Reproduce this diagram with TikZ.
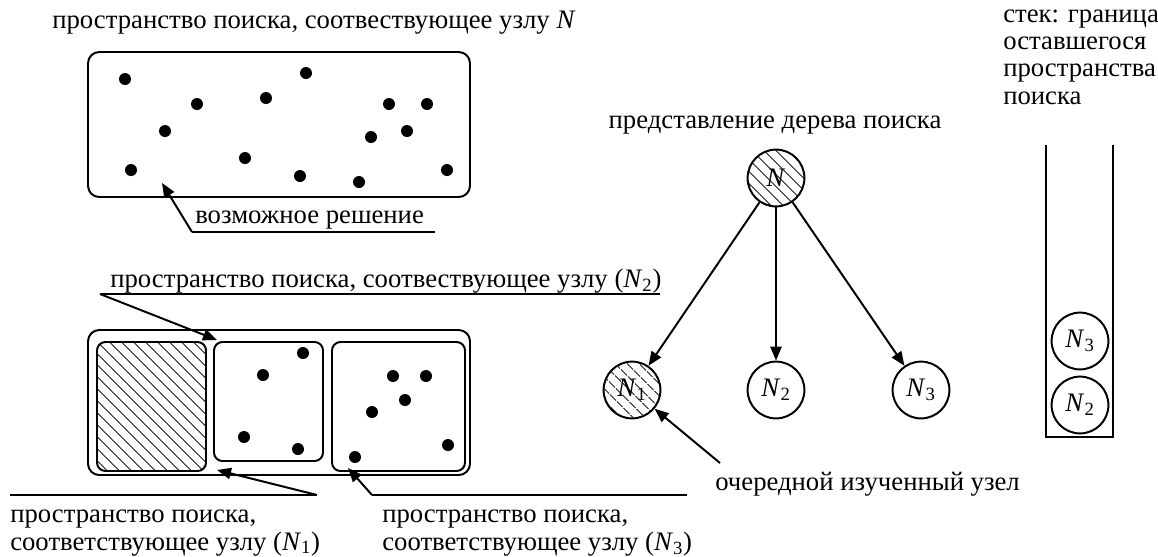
\documentclass[tikz,border=0pt]{standalone}
\usepackage{fontspec}
\setmainfont{Liberation Serif}
\usetikzlibrary{arrows.meta, positioning, patterns.meta}

\newcommand{\nsub}[1]{\textit{N}\textsubscript{#1}}

\begin{document}
\begin{tikzpicture}[
    txt/.style={inner sep=0pt, font=\fontsize{19}{19.3}\selectfont},
    space/.style={draw, line width=1.4pt, rounded corners=8pt,
                minimum width=9.55cm, minimum height=3.625cm},
    part/.style={draw, line width=1.4pt, rounded corners=6pt},
    hatch/.style={pattern={Lines[angle=-45, distance=6.5pt,
                line width=0.6pt]}, pattern color=black},
    dot/.style={circle, fill, inner sep=0pt, minimum size=0.3cm},
    tnode/.style={circle, draw, line width=1.4pt, minimum size=1.42cm,
                inner sep=0pt, font=\fontsize{19}{19.3}\selectfont},
    arr/.style={-{Triangle[length=10pt, width=8pt]}, line width=1.4pt},
    lead/.style={line width=1.4pt},
  ]
    \useasboundingbox (0,0) rectangle (28.95,-13.9);

    % Search space of node N
    \node[txt, anchor=base west] (ttop) at (1.3,-0.7)
      {пространство поиска, соотвествующее узлу \textit{N}};
    \node[space] (top) at (6.975,-3.1125) {};
    \node[dot] (a1) at (3.125,-1.975) {};
    \node[dot] (a2) at (4.925,-2.6) {};
    \node[dot] (a3) at (7.65,-1.825) {};
    \node[dot] (a4) at (6.65,-2.45) {};
    \node[dot] (a5) at (4.125,-3.275) {};
    \node[dot] (a6) at (3.275,-4.25) {};
    \node[dot] (a7) at (6.125,-3.95) {};
    \node[dot] (a8) at (7.5,-4.4) {};
    \node[dot] (a9) at (8.975,-4.55) {};
    \node[dot] (a10) at (9.725,-2.6) {};
    \node[dot] (a11) at (10.675,-2.6) {};
    \node[dot] (a12) at (10.175,-3.275) {};
    \node[dot] (a13) at (9.275,-3.425) {};
    \node[dot] (a14) at (11.175,-4.25) {};

    % Candidate solution
    \node[txt, anchor=base west] (tsol) at (4.875,-5.575)
      {возможное решение};
    \coordinate (solL) at (4.8,-5.8);
    \coordinate (solR) at (10.875,-5.8);
    \coordinate (solpt) at (4.05,-4.575);
    \draw[lead] (solR) -- (solL);
    \draw[arr] (solL) -- (solpt);

    % Split into three subspaces
    \node[space] (bot) at (6.975,-10.0625) {};
    \node[part, hatch, minimum width=2.725cm, minimum height=3.225cm]
      (s1) at (3.7875,-10.1625) {};
    \node[part, minimum width=2.725cm, minimum height=2.975cm]
      (s2) at (6.7125,-10.0375) {};
    \node[part, minimum width=3.325cm, minimum height=3.225cm]
      (s3) at (9.9625,-10.1625) {};
    \node[dot] (b1) at (7.575,-8.825) {};
    \node[dot] (b2) at (6.575,-9.375) {};
    \node[dot] (b3) at (6.1,-10.925) {};
    \node[dot] (b4) at (7.45,-11.225) {};
    \node[dot] (c1) at (9.825,-9.4) {};
    \node[dot] (c2) at (10.65,-9.4) {};
    \node[dot] (c3) at (10.125,-10.0) {};
    \node[dot] (c4) at (9.3,-10.3) {};
    \node[dot] (c5) at (11.2,-11.125) {};
    \node[dot] (c6) at (8.875,-11.425) {};

    % Labels of the subspaces
    \node[txt, anchor=base west] (tn2) at (2.75,-7.175)
      {пространство поиска, соотвествующее узлу (\nsub{2})};
    \coordinate (n2L) at (2.5,-7.35);
    \coordinate (n2R) at (16.5,-7.35);
    \coordinate (n2pt) at (5.425,-8.5);
    \draw[lead] (n2R) -- (n2L);
    \draw[arr] (n2L) -- (n2pt);

    \node[txt, anchor=base west, align=left] (tn1) at (0.25,-13.75)
      {пространство поиска,\\соответствующее узлу (\nsub{1})};
    \coordinate (n1L) at (0.25,-12.375);
    \coordinate (n1R) at (7.925,-12.375);
    \coordinate (n1pt) at (5.425,-11.75);
    \draw[lead] (n1L) -- (n1R);
    \draw[arr] (n1R) -- (n1pt);

    \node[txt, anchor=base west, align=left] (tn3) at (9.55,-13.75)
      {пространство поиска,\\соответствующее узлу (\nsub{3})};
    \coordinate (n3L) at (9.3,-12.375);
    \coordinate (n3R) at (17.175,-12.375);
    \coordinate (n3pt) at (8.7,-11.7);
    \draw[lead] (n3R) -- (n3L);
    \draw[arr] (n3L) -- (n3pt);

    % Search tree
    \node[txt] (ttree) at (19.375,-3.125) {представление дерева поиска};
    \node[tnode, hatch] (N) at (19.4,-4.45) {\textit{N}};
    \node[tnode, hatch] (N1) at (15.8,-9.75) {\nsub{1}};
    \node[tnode] (N2) at (19.4,-9.75) {\nsub{2}};
    \node[tnode] (N3) at (23.025,-9.75) {\nsub{3}};
    \draw[arr] (N) -- (N1);
    \draw[arr] (N) -- (N2);
    \draw[arr] (N) -- (N3);

    \node[txt, anchor=base west] (tvis) at (17.875,-12.25)
      {очередной изученный узел};
    \coordinate (vis) at (18.0,-11.575);
    \draw[arr] (vis) -- (N1);

    % Stack
    \node[txt, anchor=base west, align=left] (tstack) at (25.075,-2.6)
      {стек: граница\\оставшегося\\пространства\\поиска};
    \coordinate (stTL) at (26.15,-3.625);
    \coordinate (stBL) at (26.15,-10.925);
    \coordinate (stBR) at (27.825,-10.925);
    \coordinate (stTR) at (27.825,-3.625);
    \draw[lead] (stTL) -- (stBL) -- (stBR) -- (stTR);
    \node[tnode] (S3) at (27.0,-8.525) {\nsub{3}};
    \node[tnode] (S2) at (27.0,-10.125) {\nsub{2}};
  \end{tikzpicture}
\end{document}
